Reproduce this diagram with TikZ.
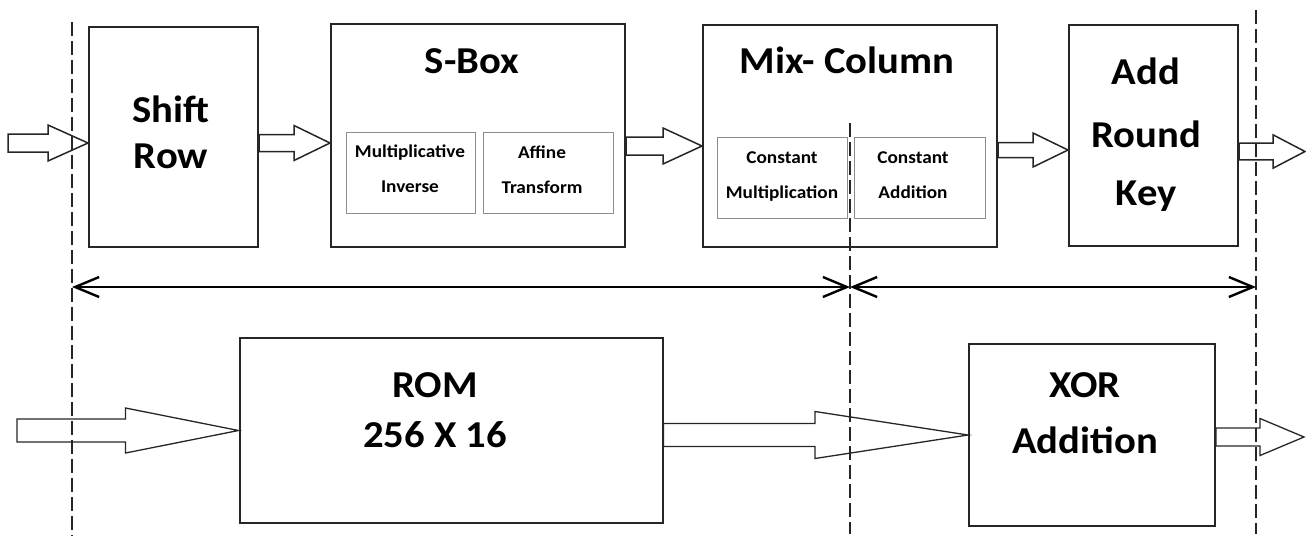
\documentclass[tikz,border=0pt]{standalone}
\usepackage{fontspec}
\setmainfont{Carlito}[FakeStretch=1.07]
\usepackage{tikz}
\usetikzlibrary{arrows.meta, calc, positioning}
\tikzstyle{block}=[draw=black!85, line width=2pt, inner sep=0pt]
\tikzstyle{subblock}=[draw=black!45, line width=1pt, inner sep=0pt]
\tikzstyle{bigtext}=[font=\bfseries\fontsize{38}{46}\selectfont, align=center, anchor=base, inner sep=0pt]
\tikzstyle{smalltext}=[font=\bfseries\fontsize{18}{35}\selectfont, align=center, anchor=base, inner sep=0pt]
\tikzstyle{border}=[line width=2pt, black!85, dash pattern=on 14pt off 5pt]
\tikzstyle{span}=[<->, line width=2.4pt]
% hollow block arrow from start to target, drawn at the height of the target
\tikzset{fat/.style n args={3}{to path={
    let \p1=(\tikztostart), \p2=(\tikztotarget) in
    (\x1,\y2+#1pt) -- (\x2-#3pt,\y2+#1pt) -- (\x2-#3pt,\y2+#2pt) -- (\x2,\y2)
    -- (\x2-#3pt,\y2-#2pt) -- (\x2-#3pt,\y2-#1pt) -- (\x1,\y2-#1pt) -- cycle}}}

\begin{document}
\begin{tikzpicture}[x=1pt, y=-1pt, >={Straight Barb[length=24pt,width=20pt]}]
    \useasboundingbox (0,0) rectangle (1306,536);

    % upper row
    \node[block, minimum width=169pt, minimum height=220pt] (shift) at (173.5,137) {};
    \node[block, minimum width=294pt, minimum height=223pt] (sbox)  at (478,135.5) {};
    \node[subblock, minimum width=129pt, minimum height=81pt] (mulinv) at (410.5,172.5) {};
    \node[subblock, minimum width=130pt, minimum height=81pt] (affine) at (548,172.5) {};
    \node[block, minimum width=294pt, minimum height=222pt] (mix)   at (850,136) {};
    \node[subblock, minimum width=130pt, minimum height=81pt] (cmul) at (782,177.5) {};
    \node[subblock, minimum width=131pt, minimum height=81pt] (cadd) at (919.5,177.5) {};
    \node[block, minimum width=169pt, minimum height=221pt] (ark)   at (1153.5,135.5) {};

    % texts sit on the baseline of their last line
    \node[bigtext] (shiftt)  at (171,168)  {Shift\\Row};
    \node[bigtext] (sboxt)   at (472,73)   {S-Box};
    \node[smalltext] (mulinvt) at (410,192) {Multiplicative\\Inverse};
    \node[smalltext] (affinet) at (542,193) {Affine\\Transform};
    \node[bigtext] (mixt)    at (847,73)   {Mix- Column};
    \node[smalltext] (cmult)   at (782,198) {Constant\\Multiplication};
    \node[smalltext] (caddt)   at (913,198) {Constant\\Addition};
    \node[bigtext] (arkt)    at (1146,205) {Add\\[17pt]Round\\[12pt]Key};

    % lower row
    \node[block, minimum width=423pt, minimum height=185pt] (rom) at (451,430.5) {};
    \node[block, minimum width=246pt, minimum height=182pt] (xor) at (1092,435) {};
    \node[bigtext] (romt) at (435,447)  {ROM\\[4pt]256 X 16};
    \node[bigtext] (xort) at (1085,453) {XOR\\[10pt]Addition};

    % stage borders
    \coordinate (d1t) at (72,22);    \coordinate (d1b) at (72,536);
    \coordinate (d2t) at (850,123);  \coordinate (d2b) at (850,534);
    \coordinate (d3t) at (1256,10);  \coordinate (d3b) at (1256,534);
    \draw[border] (d1t) -- (d1b);
    \draw[border] (d2t) -- (d2b);
    \draw[border] (d3t) -- (d3b);

    \coordinate (m1) at (72,287);
    \coordinate (m2) at (850,287);
    \coordinate (m3) at (1256,287);
    \draw[span] (m1) -- (m2);
    \draw[span] (m2) -- (m3);

    % data flow
    \coordinate (in1)  at (8,143);
    \coordinate (out1) at (1305,151.5);
    \coordinate (in2)  at (17,431);
    \coordinate (out2) at (1304,437);

    \path[every edge/.style={draw, black!85, line width=1.5pt}]
      (in1) edge[fat={9}{18}{40}] (shift.west |- in1)
      (shift.east) edge[fat={8.5}{17.5}{36}] ([yshift=-7.5pt]sbox.west)
      (sbox.east) edge[fat={9}{18}{39}] ([yshift=-10pt]mix.west)
      (mix.east) edge[fat={7.5}{17}{35}] ([yshift=-14.5pt]ark.west)
      (ark.east) edge[fat={8.3}{16.7}{32}] (out1);

    \path[every edge/.style={draw, black!85, line width=1.3pt}]
      (in2) edge[fat={11.5}{22.5}{113}] (rom.west)
      (rom.east) edge[fat={11.5}{23.5}{153}] (xor.west)
      (xor.east) edge[fat={9}{18.5}{44}] (out2);
\end{tikzpicture}
\end{document}
